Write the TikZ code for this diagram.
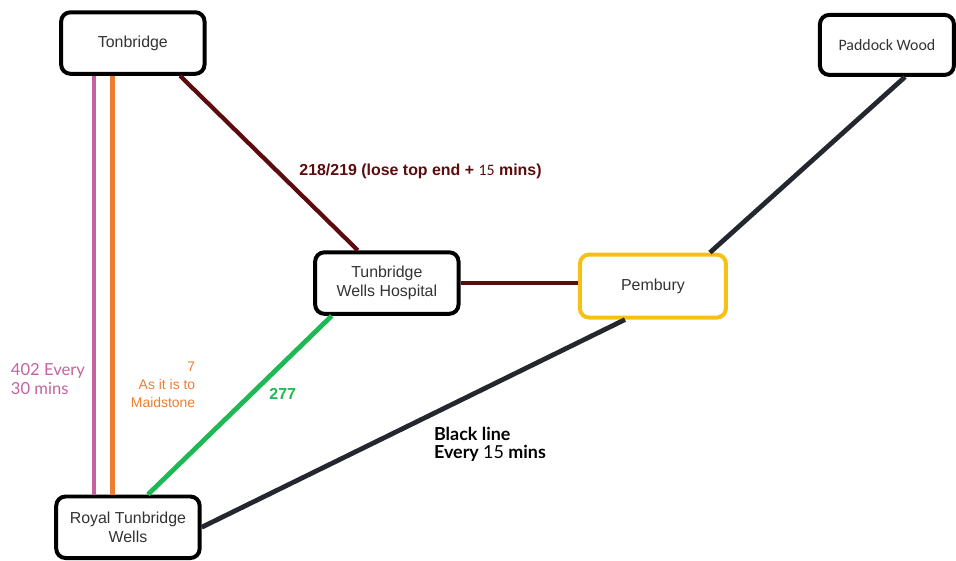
\documentclass[tikz,border=0pt]{standalone}
\usepackage{fontspec}
\setmainfont{Liberation Sans}
\newfontfamily\latofont{Lato}
\newfontfamily\carlitofont{Carlito}
\usepackage{tikz}
\usepackage{xcolor}

\definecolor{pinkline}{RGB}{196,98,160}
\definecolor{orangeline}{RGB}{237,125,49}
\definecolor{maroonline}{RGB}{92,12,14}
\definecolor{greenline}{RGB}{30,184,84}
\definecolor{blackline}{RGB}{36,40,46}
\definecolor{yellowbox}{RGB}{246,192,22}

\tikzset{
  stopbox/.style={draw, line width=3pt, rounded corners=7pt, fill=white,
    minimum width=3.8cm, minimum height=1.63cm, align=center,
    text=black!80, font=\fontsize{12}{14.5}\selectfont},
  route/.style={line width=3.6pt},
}

\begin{document}
\begin{tikzpicture}[thick]
    \useasboundingbox (-3.52,1.14) rectangle (21.81,-13.70);
    \node[stopbox] (TN) {Tonbridge};
    \node[stopbox, below of=TN, node distance=12.83cm, xshift=-0.13cm] (RTW) {Royal Tunbridge\\Wells};
    \node[stopbox, right of=TN, node distance=19.98cm, yshift=-0.05cm, minimum width=3.55cm, minimum height=1.59cm, font=\carlitofont\fontsize{12}{14}\selectfont] (PW) {Paddock Wood};
    \node[stopbox] (TWH) at (6.73,-6.36) {Tunbridge\\Wells Hospital};
    \node[stopbox, right of=TWH, node distance=7.05cm, yshift=-0.08cm, draw=yellowbox, minimum width=3.87cm, minimum height=1.67cm] (PB) {Pembury};
    % 402 and 7 down the left side
    \draw[route, pinkline] ([xshift=-1.03cm]TN.south) -- ([xshift=-1.03cm]TN.south |- RTW.north)
        node[pos=0.724, anchor=east, xshift=-0.06cm, align=left, font=\latofont\fontsize{12.5}{14.5}\selectfont] {402 Every\\30 mins};
    \draw[route, orangeline] ([xshift=-0.53cm]TN.south) -- ([xshift=-0.53cm]TN.south |- RTW.north)
        node[pos=0.738, anchor=west, xshift=0.3cm, align=right, font=\fontsize{10.5}{13.5}\selectfont] {7\\As it is to\\Maidstone};
    % 218/219
    \draw[route, line width=3.2pt, maroonline] ([xshift=1.25cm]TN.south) -- ([xshift=-0.77cm]TWH.north)
        node[pos=0.55, anchor=west, xshift=0.4cm, font=\bfseries\fontsize{12}{14}\selectfont] {218/219 (lose top end + \textmd{\carlitofont 15} mins)};
    \draw[route, line width=3.2pt, maroonline] (TWH.east) -- (TWH.east -| PB.west);
    % 277
    \draw[route, greenline] ([xshift=-1.46cm]TWH.south) -- ([xshift=0.53cm]RTW.north)
        node[pos=0.4375, anchor=west, xshift=0.3cm, font=\bfseries\fontsize{12}{14}\selectfont] {277};
    % black line
    \draw[route, blackline] (RTW.east) -- ([xshift=-0.74cm]PB.south)
        node[pos=0.54, anchor=north west, xshift=-0.08cm, yshift=-0.13cm, align=left, text=black, font=\latofont\bfseries\fontsize{13.5}{14}\selectfont] {Black line\\Every \textmd{15} mins};
    \draw[route, blackline] ([xshift=1.51cm]PB.north) -- ([xshift=0.48cm]PW.south);
\end{tikzpicture}
\end{document}
